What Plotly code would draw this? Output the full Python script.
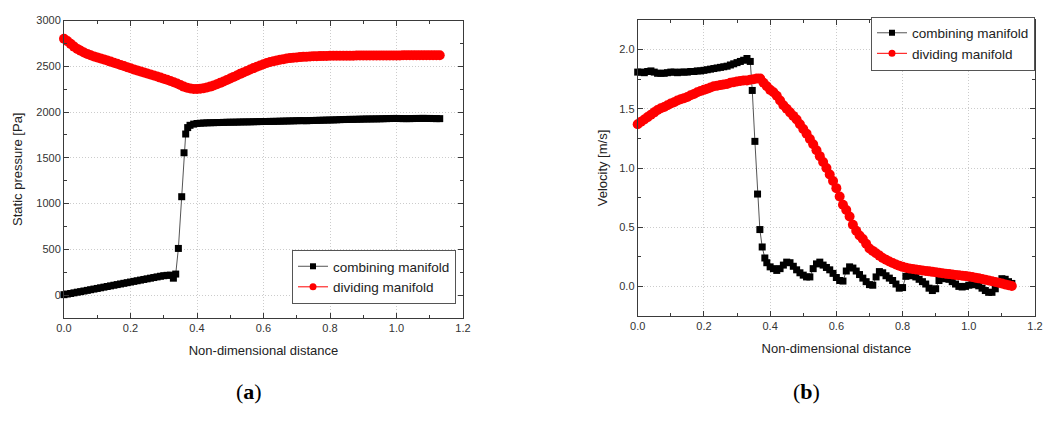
import numpy as np
import plotly.graph_objects as go

# ---------------- (a) static pressure ----------------
# dividing manifold, sampled every 0.01 from 0.00 to 1.13
pa_div_x = np.round(np.arange(0.0, 1.135, 0.01), 2)
pa_div_y = [
    2800, 2775, 2745, 2715, 2690, 2670, 2650, 2635, 2620, 2608,
    2597, 2586, 2575, 2563, 2551, 2539, 2527, 2515, 2503, 2490,
    2478, 2466, 2455, 2444, 2433, 2421, 2410, 2399, 2388, 2376,
    2364, 2352, 2339, 2326, 2312, 2295, 2278, 2265, 2257, 2253,
    2252, 2255, 2260, 2268, 2278, 2290, 2304, 2319, 2334, 2350,
    2367, 2384, 2400, 2417, 2433, 2449, 2465, 2480, 2495, 2509,
    2522, 2535, 2546, 2555, 2563, 2571, 2578, 2584, 2589, 2593,
    2597, 2600, 2603, 2605, 2607, 2609, 2610, 2611, 2612, 2613,
    2614, 2615, 2615, 2615, 2616, 2616, 2616, 2616, 2617, 2617,
    2617, 2617, 2618, 2618, 2618, 2618, 2618, 2619, 2619, 2619,
    2619, 2619, 2620, 2620, 2620, 2620, 2620, 2620, 2620, 2620,
    2620, 2620, 2620, 2620,
]

# combining manifold: 0.00-0.32, the jump, then 0.39-1.13
pa_com_x_low = np.round(np.arange(0.0, 0.325, 0.01), 2)
pa_com_y_low = [
    5, 12, 18, 25, 32, 38, 45, 52, 59, 66,
    73, 80, 87, 94, 101, 108, 115, 122, 129, 136,
    143, 150, 157, 164, 171, 178, 185, 192, 199, 206,
    212, 216, 218,
]
pa_com_x_jump = [0.329, 0.336, 0.344, 0.354, 0.361, 0.366, 0.372, 0.379]
pa_com_y_jump = [185, 230, 510, 1075, 1555, 1760, 1830, 1855]
pa_com_x_high = np.round(np.arange(0.39, 1.135, 0.01), 2)
pa_com_y_high = [
    1868, 1875, 1878, 1880, 1882, 1883, 1884, 1885, 1886, 1887,
    1888, 1889, 1889, 1890, 1891, 1892, 1892, 1893, 1894, 1895,
    1896, 1897, 1897, 1898, 1898, 1899, 1900, 1901, 1902, 1903,
    1904, 1905, 1906, 1906, 1905, 1907, 1908, 1909, 1910, 1911,
    1912, 1913, 1914, 1915, 1917, 1918, 1919, 1920, 1920, 1921,
    1922, 1923, 1924, 1924, 1925, 1925, 1926, 1927, 1928, 1929,
    1930, 1930, 1929, 1928, 1928, 1928, 1929, 1930, 1930, 1931,
    1930, 1930, 1929, 1928, 1928,
]

# ---------------- (b) velocity ----------------
vb_div_x = np.round(np.arange(0.0, 1.135, 0.01), 2)
vb_div_y = [
    1.37, 1.39, 1.41, 1.43, 1.45, 1.47, 1.49, 1.505, 1.515, 1.53,
    1.545, 1.555, 1.57, 1.58, 1.59, 1.60, 1.615, 1.625, 1.64, 1.65,
    1.66, 1.67, 1.68, 1.69, 1.695, 1.70, 1.705, 1.71, 1.72, 1.725,
    1.73, 1.735, 1.74, 1.74, 1.745, 1.75, 1.755, 1.755, 1.72, 1.69,
    1.66, 1.64, 1.61, 1.57, 1.53, 1.50, 1.47, 1.44, 1.41, 1.37,
    1.33, 1.29, 1.245, 1.20, 1.15, 1.10, 1.05, 1.00, 0.945, 0.89,
    0.83, 0.76, 0.69, 0.645, 0.59, 0.52, 0.47, 0.43, 0.40, 0.36,
    0.32, 0.30, 0.28, 0.26, 0.24, 0.225, 0.21, 0.197, 0.185, 0.175,
    0.165, 0.158, 0.152, 0.147, 0.143, 0.139, 0.135, 0.131, 0.127, 0.123,
    0.119, 0.115, 0.111, 0.107, 0.104, 0.100, 0.097, 0.094, 0.090, 0.087,
    0.083, 0.079, 0.074, 0.068, 0.062, 0.056, 0.050, 0.044, 0.038, 0.031,
    0.024, 0.017, 0.010, 0.004,
]

vb_com_x_low = np.round(np.arange(0.0, 0.345, 0.01), 2)
vb_com_y_low = [
    1.81, 1.81, 1.805, 1.815, 1.82, 1.81, 1.80, 1.80, 1.80, 1.805,
    1.81, 1.81, 1.805, 1.81, 1.81, 1.81, 1.815, 1.815, 1.82, 1.82,
    1.825, 1.83, 1.835, 1.84, 1.845, 1.85, 1.855, 1.86, 1.87, 1.88,
    1.89, 1.90, 1.91, 1.925, 1.90,
]
vb_com_x_jump = [0.346, 0.354, 0.362, 0.369, 0.376, 0.384]
vb_com_y_jump = [1.655, 1.225, 0.78, 0.48, 0.333, 0.24]
vb_com_x_high = np.round(np.arange(0.39, 1.135, 0.01), 2)
vb_com_y_high = [
    0.20, 0.165, 0.15, 0.135, 0.15, 0.18, 0.205, 0.20, 0.17, 0.14,
    0.115, 0.095, 0.08, 0.08, 0.15, 0.19, 0.205, 0.18, 0.16, 0.14,
    0.11, 0.075, 0.05, 0.045, 0.13, 0.165, 0.155, 0.13, 0.10, 0.07,
    0.04, 0.015, 0.01, 0.08, 0.125, 0.115, 0.09, 0.07, 0.05, 0.02,
    -0.015, -0.01, 0.085, 0.10, 0.09, 0.08, 0.06, 0.04, 0.02, -0.015,
    -0.035, -0.02, 0.05, 0.07, 0.065, 0.06, 0.04, 0.02, 0.00, -0.005,
    0.0, 0.01, 0.015, 0.015, 0.005, -0.015, -0.035, -0.05, -0.05, -0.02,
    0.04, 0.065, 0.06, 0.04, 0.025,
]

NAMES = ["combining manifold", "dividing manifold"]
X_TICKS = [0.0, 0.2, 0.4, 0.6, 0.8, 1.0, 1.2]

pa_com_x = list(pa_com_x_low) + pa_com_x_jump + list(pa_com_x_high)
pa_com_y = pa_com_y_low + pa_com_y_jump + pa_com_y_high
vb_com_x = list(vb_com_x_low) + vb_com_x_jump + list(vb_com_x_high)
vb_com_y = vb_com_y_low + vb_com_y_jump + vb_com_y_high

FONT = "Liberation Sans, Arial, sans-serif"
AXIS_COLOR = "#3a3a3a"
GRID_COLOR = "#cccccc"

COM_LINE = dict(color="#555555", width=1)
DIV_LINE = dict(color="#ff0000", width=1)

fig = go.Figure()


def add_pair(xc, yc, xd, yd, xa, ya, legend):
    # data traces (full-size markers)
    fig.add_trace(go.Scatter(
        x=xc, y=yc, name=NAMES[0], mode="lines+markers", line=COM_LINE,
        marker=dict(symbol="square", size=7, color="black"),
        xaxis=xa, yaxis=ya, showlegend=False, cliponaxis=False,
    ))
    fig.add_trace(go.Scatter(
        x=xd, y=yd, name=NAMES[1], mode="lines+markers", line=DIV_LINE,
        marker=dict(symbol="circle", size=10, color="#ff0000"),
        xaxis=xa, yaxis=ya, showlegend=False, cliponaxis=False,
    ))
    # legend keys with smaller symbols
    fig.add_trace(go.Scatter(
        x=[None], y=[None], name=NAMES[0], mode="lines+markers", line=COM_LINE,
        marker=dict(symbol="square", size=6, color="black"),
        xaxis=xa, yaxis=ya, legend=legend,
    ))
    fig.add_trace(go.Scatter(
        x=[None], y=[None], name=NAMES[1], mode="lines+markers", line=DIV_LINE,
        marker=dict(symbol="circle", size=7, color="#ff0000"),
        xaxis=xa, yaxis=ya, legend=legend,
    ))


add_pair(pa_com_x, pa_com_y, pa_div_x, pa_div_y, "x", "y", "legend")
add_pair(vb_com_x, vb_com_y, vb_div_x, vb_div_y, "x2", "y2", "legend2")


def axis_common():
    return dict(
        showline=True, linecolor=AXIS_COLOR, linewidth=1, mirror="ticks",
        ticks="inside", ticklen=5, tickwidth=1, tickcolor=AXIS_COLOR,
        showgrid=True, gridcolor=GRID_COLOR, griddash="1px,2px", gridwidth=1,
        zeroline=False, automargin=False,
        tickfont=dict(family=FONT, size=11, color="#333333"),
    )


W, H = 1043, 421
TITLE_FONT = dict(family=FONT, size=13, color="#222222")
xa = axis_common()
xa.update(domain=[64 / W, 463 / W], range=[0, 1.2], tickvals=X_TICKS,
          tickformat=".1f", anchor="y",
          minor=dict(dtick=0.1, ticks="inside", ticklen=3, tickcolor=AXIS_COLOR),
          title=dict(text="Non-dimensional distance", standoff=12, font=TITLE_FONT))
ya = axis_common()
ya.update(domain=[(H - 318) / H, (H - 20.5) / H], range=[-250, 3000],
          dtick=500, tick0=0, tickformat="d", anchor="x",
          minor=dict(dtick=250, ticks="inside", ticklen=3, tickcolor=AXIS_COLOR),
          title=dict(text="Static pressure [Pa]", standoff=10, font=TITLE_FONT))
xb = axis_common()
xb.update(domain=[637.7 / W, 1035 / W], range=[0, 1.2], tickvals=X_TICKS,
          tickformat=".1f", anchor="y2",
          minor=dict(dtick=0.1, ticks="inside", ticklen=3, tickcolor=AXIS_COLOR),
          title=dict(text="Non-dimensional distance", standoff=12, font=TITLE_FONT))
yb = axis_common()
yb.update(domain=[(H - 316) / H, (H - 20) / H], range=[-0.25, 2.25],
          dtick=0.5, tick0=0, tickformat=".1f", anchor="x2",
          minor=dict(dtick=0.25, ticks="inside", ticklen=3, tickcolor=AXIS_COLOR),
          title=dict(text="Velocity [m/s]", standoff=8, font=TITLE_FONT))

legend_style = dict(
    bgcolor="white", bordercolor="#555555", borderwidth=1,
    font=dict(family=FONT, size=13.5, color="#222222"),
    xanchor="right", yanchor="middle", tracegroupgap=0,
    itemwidth=30,
)

fig.update_layout(
    width=W, height=H,
    margin=dict(l=0, r=0, t=0, b=0, autoexpand=False),
    paper_bgcolor="white", plot_bgcolor="white",
    xaxis=xa, yaxis=ya, xaxis2=xb, yaxis2=yb,
    legend=dict(x=456 / W, y=(H - 277) / H, **legend_style),
    legend2=dict(x=1035 / W, y=(H - 43.5) / H, **legend_style),
    annotations=[
        dict(text="(<b>a</b>)", x=234 / W, y=(H - 406) / H, xref="paper",
             yref="paper", showarrow=False,
             font=dict(family="Liberation Serif, serif", size=22, color="black")),
        dict(text="(<b>b</b>)", x=822 / W, y=(H - 406) / H, xref="paper",
             yref="paper", showarrow=False,
             font=dict(family="Liberation Serif, serif", size=22, color="black")),
    ],
)

fig.write_html("out.html")
